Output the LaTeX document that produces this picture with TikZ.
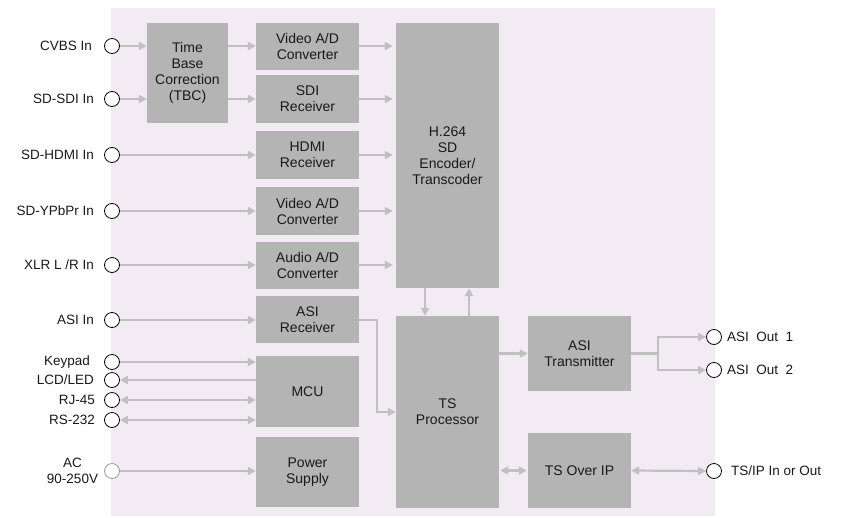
\documentclass[tikz,border=0pt]{standalone}
\usepackage{fontspec}
\setmainfont{Liberation Sans}
\usetikzlibrary{arrows.meta}
\definecolor{panel}{RGB}{242,235,244}
\definecolor{boxgray}{RGB}{180,180,180}
\definecolor{arrgray}{RGB}{192,192,192}
\definecolor{txt}{RGB}{25,25,25}
\tikzset{
  blk/.style={fill=boxgray, draw=none, inner sep=0pt, align=center, text=txt, minimum width=103pt, font=\fontsize{14}{16}\selectfont},
  port/.style={circle, draw=black, line width=0.8pt, fill=white, minimum size=15pt, inner sep=0pt},
  aport/.style={port, draw=gray!80},
  lbl/.style={text=txt, inner sep=0pt},
  wire/.style={draw=arrgray, line width=2.2pt},
  arr/.style={wire, -{Triangle[length=8pt,width=8pt]}},
  darr/.style={wire, {Triangle[length=8pt,width=8pt]}-{Triangle[length=8pt,width=8pt]}},
}
\begin{document}
\begin{tikzpicture}[x=1pt,y=-1pt, font=\fontsize{13.5}{15.5}\selectfont]
\useasboundingbox (0,0) rectangle (843,517);
\fill[panel] (111,8) rectangle (715,516);

% blocks
\node[blk, minimum width=81pt, minimum height=100pt] (tbc) at (187.5,73) {Time\\Base\\Correction\\(TBC)};
\node[blk, minimum height=47pt] (vad1) at (307.5,46.5) {Video A/D\\Converter};
\node[blk, minimum height=48pt] (sdi) at (307.5,99) {SDI\\Receiver};
\node[blk, minimum height=48pt] (hdmi) at (307.5,155) {HDMI\\Receiver};
\node[blk, minimum height=48pt] (vad2) at (307.5,211) {Video A/D\\Converter};
\node[blk, minimum height=47pt] (aad) at (307.5,265.5) {Audio A/D\\Converter};
\node[blk, minimum height=47pt] (asir) at (307.5,319.5) {ASI\\Receiver};
\node[blk, minimum height=71pt] (mcu) at (307.5,391.5) {MCU};
\node[blk, minimum height=70pt] (ps) at (307.5,472) {Power\\Supply};
\node[blk, minimum height=265pt] (enc) at (447.5,155.5) {H.264\\SD\\Encoder/\\Transcoder};
\node[blk, minimum height=192pt] (tsp) at (447.5,412) {TS\\Processor};
\node[blk, minimum height=75pt] (asit) at (579.5,353.5) {ASI\\Transmitter};
\node[blk, minimum height=75pt] (tsip) at (579.5,470.5) {TS Over IP};

% input ports
\node[port, label={[lbl, label distance=12pt]left:CVBS In}] (cvbs) at (112,46) {};
\node[port, label={[lbl, label distance=10pt]left:SD-SDI In}] (sdiin) at (112,99) {};
\node[port, label={[lbl, label distance=10pt]left:SD-HDMI In}] (hdmiin) at (112,155) {};
\node[port, label={[lbl, label distance=10pt]left:SD-YPbPr In}] (ypbpr) at (112,211) {};
\node[port, label={[lbl, label distance=10pt]left:XLR L /R In}] (xlr) at (112,265) {};
\node[port, label={[lbl, label distance=10pt]left:ASI In}] (asiin) at (112,320) {};
\node[port, label={[lbl, label distance=14pt]left:Keypad}] (keypad) at (112,362) {};
\node[port, label={[lbl, label distance=10pt]left:LCD/LED}] (lcd) at (112,380) {};
\node[port, label={[lbl, label distance=9pt]left:RJ-45}] (rj45) at (112,400) {};
\node[port, label={[lbl, label distance=9pt]left:RS-232}] (rs232) at (112,420) {};
\node[aport] (ac) at (112,471) {};
\node[lbl, align=center] (aclbl) at (72.5,471) {AC\\90-250V};

% output ports
\node[port] (out1) at (714,337) {};
\node[port] (out2) at (714,370) {};
\node[port] (tsipo) at (714,471) {};
\node[lbl, anchor=west] (out1lbl) at (727,337) {\spaceskip=0.55em ASI Out 1};
\node[lbl, anchor=west] (out2lbl) at (727,370) {\spaceskip=0.55em ASI Out 2};
\node[lbl, anchor=west] (tsipolbl) at (731,471) {TS/IP In or Out};

% video chain
\draw[arr] (cvbs) -- (cvbs -| tbc.west);
\draw[arr] (sdiin) -- (sdiin -| tbc.west);
\draw[arr] (tbc.east |- cvbs) -- (cvbs -| vad1.west);
\draw[arr] (tbc.east |- sdiin) -- (sdiin -| sdi.west);
\draw[arr] (hdmiin) -- (hdmiin -| hdmi.west);
\draw[arr] (ypbpr) -- (ypbpr -| vad2.west);
\draw[arr] (xlr) -- (xlr -| aad.west);
\draw[arr] (asiin) -- (asiin -| asir.west);

\foreach \p/\b in {cvbs/vad1, sdiin/sdi, hdmiin/hdmi, ypbpr/vad2, xlr/aad}
  \draw[arr, shorten >=3pt] (\b.east |- \p) -- (\p -| enc.west);

% ASI receiver to TS processor
\draw[arr] (asir.east |- asiin) -- ++(18,0) |- (tsp.west);

% MCU
\draw[arr] (keypad) -- (keypad -| mcu.west);
\draw[arr] (lcd -| mcu.west) -- (lcd);
\draw[darr] (rj45) -- (rj45 -| mcu.west);
\draw[darr] (rs232) -- (rs232 -| mcu.west);

% power
\draw[arr] (ac) -- (ac -| ps.west);

% encoder <-> TS processor
\draw[arr] ([xshift=-22.5pt]enc.south) -- ([xshift=-22.5pt]tsp.north);
\draw[arr] ([xshift=21.5pt]tsp.north) -- ([xshift=21.5pt]enc.south);

% TS processor to ASI transmitter
\draw[arr] (tsp.east |- asit) -- (asit.west);
\coordinate (br) at (658,353.5);
\draw[wire] (asit.east) -- (br);
\draw[arr] (br) |- (out1.west);
\draw[arr] (br) |- (out2.west);

% TS over IP
\draw[darr, shorten <=1pt, shorten >=1pt] (tsp.east |- tsip) -- (tsip.west);
\draw[darr] (tsip.east) -- (tsipo.west);
\end{tikzpicture}
\end{document}
